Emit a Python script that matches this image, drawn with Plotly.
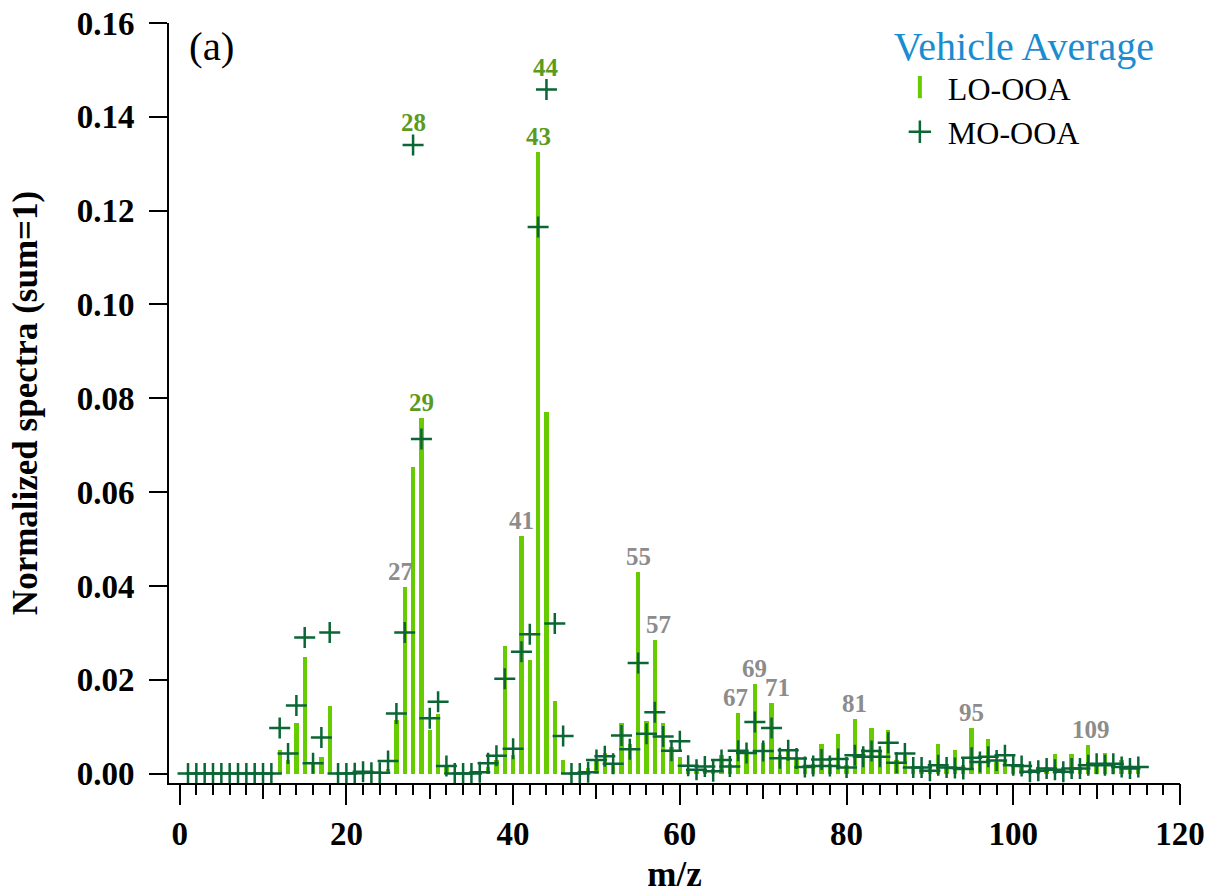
import plotly.graph_objects as go

# ---------------- data ----------------
mz = list(range(1, 116))

lo_ooa = [
    0, 0, 0, 0, 0, 0, 0, 0, 0, 0,                                   # 1-10
    0, 0.0051, 0.003, 0.0107, 0.0249, 0.002, 0.0035, 0.0144, 0, 0,   # 11-20
    0, 0.0005, 0.0003, 0, 0.001, 0.0114, 0.0398, 0.0654, 0.0757, 0.0094,  # 21-30
    0.0128, 0.0015, 0, 0, 0, 0, 0.0015, 0.003, 0.0272, 0.004,        # 31-40
    0.0506, 0.0243, 0.1325, 0.0770, 0.0155, 0.003, 0, 0, 0.0012, 0.003,  # 41-50
    0.0043, 0.002, 0.0108, 0.0064, 0.0429, 0.0113, 0.0284, 0.0107, 0.0057, 0.0036,  # 51-60
    0.001, 0.0007, 0.001, 0.001, 0.0039, 0.002, 0.0129, 0.0043, 0.0192, 0.0065,  # 61-70
    0.0151, 0.0039, 0.005, 0.0036, 0.0018, 0.002, 0.0064, 0.002, 0.0084, 0.0018,  # 71-80
    0.0117, 0.0053, 0.0098, 0.005, 0.0094, 0.0028, 0.0039, 0.0014, 0.001, 0.001,  # 81-90
    0.0063, 0.001, 0.0051, 0.0018, 0.0098, 0.0025, 0.0073, 0.0025, 0.003, 0.002,  # 91-100
    0.0015, 0.001, 0.0015, 0.0015, 0.0041, 0.001, 0.0041, 0.0015, 0.006, 0.002,  # 101-110
    0.0045, 0.002, 0.003, 0.0015, 0.001,                             # 111-115
]

mo_ooa = [
    0, 0, 0, 0, 0, 0, 0, 0, 0, 0,                                   # 1-10
    0, 0.0097, 0.0043, 0.0145, 0.029, 0.0022, 0.0077, 0.0301, 0, 0,  # 11-20
    0.0001, 0.0004, 0.0002, 0.0002, 0.0027, 0.0128, 0.0301, 0.134, 0.0713, 0.0118,  # 21-30
    0.0153, 0.0016, 0, 0, 0, 0.0003, 0.0022, 0.0038, 0.0202, 0.0053,  # 31-40
    0.026, 0.0297, 0.1165, 0.1458, 0.032, 0.008, 0, 0, 0.0003, 0.0029,  # 41-50
    0.0037, 0.0021, 0.0081, 0.0052, 0.0236, 0.0085, 0.0131, 0.0079, 0.0049, 0.0069,  # 51-60
    0.0017, 0.0008, 0.0015, 0.0005, 0.0029, 0.0015, 0.0049, 0.0044, 0.011, 0.0048,  # 61-70
    0.0097, 0.0033, 0.005, 0.0032, 0.0014, 0.0016, 0.003, 0.0016, 0.0031, 0.0013,  # 71-80
    0.0039, 0.0036, 0.0048, 0.0036, 0.0066, 0.0023, 0.0043, 0.0013, 0.0013, 0.0006,  # 81-90
    0.0018, 0.0013, 0.0012, 0.001, 0.0034, 0.0025, 0.0036, 0.0028, 0.0039, 0.0018,  # 91-100
    0.0016, 0.0004, 0.0006, 0.0011, 0.0008, 0.0004, 0.0011, 0.0011, 0.0018, 0.0021,  # 101-110
    0.0018, 0.0021, 0.0014, 0.0011, 0.0014,                          # 111-115
]

labels_green = [28, 29, 43, 44]
labels_gray = [27, 41, 55, 57, 67, 69, 71, 81, 95, 109]

y_ticks = [0.00, 0.02, 0.04, 0.06, 0.08, 0.10, 0.12, 0.14, 0.16]
x_ticks = [0, 20, 40, 60, 80, 100, 120]

# ---------------- style ----------------
BAR_C = "#66cc00"
MARK_C = "#0a6634"
GREEN_LBL = "#5b9b1b"
GRAY_LBL = "#8c8c8c"
SERIF = "Liberation Serif, Times New Roman, serif"
LABEL_XSHIFT = {27: -4, 57: 4, 67: -3, 71: 6, 109: 3}

fig = go.Figure()

fig.add_trace(go.Bar(
    x=mz, y=lo_ooa, width=0.52, marker=dict(color=BAR_C, line=dict(width=0)),
    showlegend=False, name="LO-OOA",
))
fig.add_trace(go.Scatter(
    x=mz, y=mo_ooa, mode="markers", showlegend=False, name="MO-OOA",
    marker=dict(symbol="cross-thin", size=15, color=MARK_C,
                line=dict(color=MARK_C, width=2.5)),
))
# invisible trace to carry the intermediate-tick axis
fig.add_trace(go.Scatter(
    x=mz, y=mo_ooa, xaxis="x2", mode="markers", showlegend=False,
    marker=dict(opacity=0), hoverinfo="skip",
))
# legend entries
fig.add_trace(go.Scatter(
    x=[None], y=[None], mode="markers", name="LO-OOA",
    marker=dict(symbol="line-ns", size=16, color=BAR_C,
                line=dict(color=BAR_C, width=4)),
))
fig.add_trace(go.Scatter(
    x=[None], y=[None], mode="markers", name="MO-OOA",
    marker=dict(symbol="cross-thin", size=16, color=MARK_C,
                line=dict(color=MARK_C, width=2.5)),
))

# peak labels
for group, col in ((labels_green, GREEN_LBL), (labels_gray, GRAY_LBL)):
    for m in group:
        b = lo_ooa[m - 1]
        s = mo_ooa[m - 1]
        top = max(b, s)
        fig.add_annotation(
            x=m, y=top, text=str(m), showarrow=False,
            xanchor="center", yanchor="bottom",
            yshift=7 if s > b else 0,
            xshift=LABEL_XSHIFT.get(m, 0),
            font=dict(family=SERIF, size=25, color=col, weight="bold"),
        )

fig.add_annotation(
    x=0.018, y=0.97, xref="paper", yref="paper", text="(a)", showarrow=False,
    xanchor="left", yanchor="middle",
    font=dict(family=SERIF, size=41, color="black"),
)

XR = [-1.28, 120]
fig.update_layout(
    width=1210, height=894,
    margin=dict(l=169, r=30, t=23, b=111, autoexpand=False),
    plot_bgcolor="white", paper_bgcolor="white",
    font=dict(family=SERIF, color="black"),
    bargap=0,
    xaxis=dict(
        range=XR, showgrid=False, zeroline=False, automargin=True,
        showline=True, linecolor="black", linewidth=2,
        tickmode="array", tickvals=x_ticks,
        ticks="outside", ticklen=20, tickwidth=2, tickcolor="black",
        minor=dict(dtick=2, tick0=0, ticks="outside", ticklen=10,
                   tickwidth=2, tickcolor="black", showgrid=False),
        tickfont=dict(family=SERIF, size=33, weight="bold"),
        ticklabelstandoff=0,
        title=dict(text="m/z", font=dict(family=SERIF, size=35, weight="bold"),
                   standoff=16),
    ),
    xaxis2=dict(
        range=XR, overlaying="x", anchor="y", side="bottom", automargin=False,
        showgrid=False, zeroline=False, showline=False,
        tick0=0, dtick=10, ticks="outside", ticklen=15, tickwidth=2,
        tickcolor="black", showticklabels=False,
    ),
    yaxis=dict(
        range=[-0.002, 0.16], showgrid=False, zeroline=False, automargin=True,
        showline=True, linecolor="black", linewidth=2,
        tickmode="array", tickvals=y_ticks,
        ticktext=[f"{v:.2f}" for v in y_ticks],
        ticks="outside", ticklen=18, tickwidth=2, tickcolor="black",
        tickfont=dict(family=SERIF, size=33, weight="bold"),
        ticklabelstandoff=8,
        title=dict(text="Normalized spectra (sum=1)",
                   font=dict(family=SERIF, size=35, weight="bold"),
                   standoff=28),
    ),
    legend=dict(
        x=0.715, y=1.02, xanchor="left", yanchor="top",
        bgcolor="rgba(0,0,0,0)",
        title=dict(text="Vehicle Average",
                   font=dict(family=SERIF, size=40, color="#1a8cd0")),
        font=dict(family=SERIF, size=32, color="black"),
        itemsizing="trace", itemwidth=46,
    ),
)

fig.write_html("out.html")
